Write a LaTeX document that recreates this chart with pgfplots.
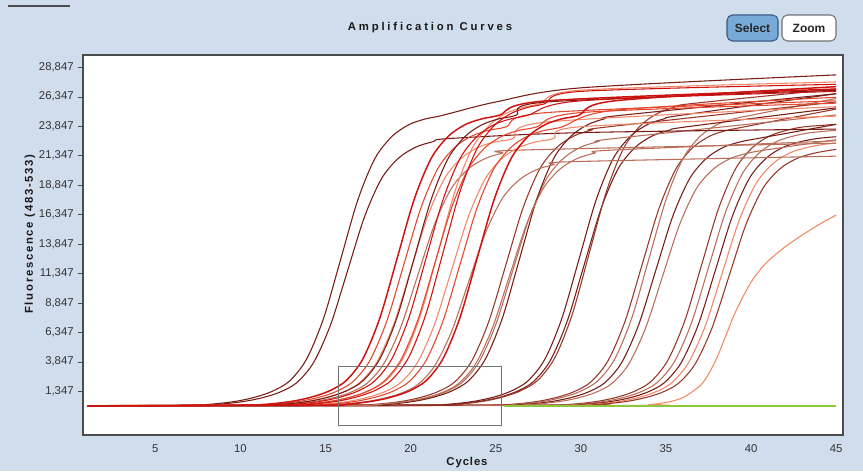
\documentclass[border=0pt]{standalone}
\usepackage{pgfplots}
\pgfplotsset{compat=1.18}
\usepackage{fontspec}
\setmainfont{Liberation Sans}
\definecolor{bgc}{RGB}{207,221,236}
\definecolor{cA}{RGB}{120,28,22}
\definecolor{cB}{RGB}{205,18,15}
\definecolor{cC}{RGB}{228,70,45}
\definecolor{cD}{RGB}{240,135,105}
\definecolor{cE}{RGB}{150,55,40}
\definecolor{cF}{RGB}{185,110,90}
\definecolor{cG}{RGB}{238,140,100}
\definecolor{greenline}{RGB}{140,200,60}
\definecolor{selfill}{RGB}{120,170,215}
\definecolor{seldraw}{RGB}{60,90,130}
\begin{document}
\begin{tikzpicture}
\fill[bgc] (0,0) rectangle (647.25pt,-353.25pt);
\draw[black!70,line width=1.5pt] (6pt,-4.5pt) -- (52.5pt,-4.5pt);
\node[font=\fontsize{8.5}{9}\selectfont\bfseries\addfontfeature{LetterSpace=25},text=black!90] at (322.5pt,-21pt) {Amplification Curves};
\draw[seldraw,fill=selfill,rounded corners=4pt,line width=0.8pt] (545.25pt,-11.25pt) rectangle (583.5pt,-30.75pt);
\node[font=\fontsize{9}{10}\selectfont\bfseries,text=black!85] at (564.4pt,-21pt) {Select};
\draw[black!55,fill=white,rounded corners=4pt,line width=0.8pt] (586.5pt,-11.25pt) rectangle (627pt,-30.75pt);
\node[font=\fontsize{9}{10}\selectfont\bfseries,text=black!85] at (606.75pt,-21pt) {Zoom};
\node[font=\fontsize{8.5}{9}\selectfont\bfseries\addfontfeature{LetterSpace=8},text=black!90] at (350.25pt,-347.25pt) {Cycles};
\node[rotate=90,font=\fontsize{8.5}{9}\selectfont\bfseries\addfontfeature{LetterSpace=15},text=black!90] at (22.5pt,-175.5pt) {Fluorescence (483-533)};
\begin{axis}[
  at={(62.25pt,-326.25pt)}, anchor=south west,
  width=570pt, height=285pt, scale only axis,
  xmin=0.75, xmax=45.4, ymin=-2380, ymax=29890,
  scaled y ticks=false, scaled x ticks=false,
  axis background/.style={fill=white},
  axis line style={draw=black!70,line width=1.1pt},
  xtick={5,10,15,20,25,30,35,40,45},
  xticklabels={5,10,15,20,25,30,35,40,45},
  ytick={1347,3847,6347,8847,11347,13847,16347,18847,21347,23847,26347,28847},
  yticklabels={{1,347},{3,847},{6,347},{8,847},{11,347},{13,847},{16,347},{18,847},{21,347},{23,847},{26,347},{28,847}},
  tick label style={font=\fontsize{8.5}{9}\selectfont, text=black!80},
  xtick style={draw=none},
  ytick style={draw=black!70},
  tick align=outside, major tick length=3.5pt,
  ytick pos=left, xtick pos=bottom,
  no markers,
  every axis plot/.append style={line width=0.8pt, smooth, tension=0.5},
]
% Group F
\addplot[cE] coordinates {(1,100) (28.1,148) (29.1,196) (30.1,316) (31.1,508) (32.1,820) (33.1,1300) (34.1,2140) (35.1,3940) (36.1,7300) (37.1,12100) (38.1,16900) (39.1,20260) (40.1,22060) (41.1,23020) (42.1,23500) (43.1,23788) (45,24000)};
\addplot[cF] coordinates {(1,100) (28.5,147) (29.5,194) (30.5,312) (31.5,500) (32.5,805) (33.5,1275) (34.5,2098) (35.5,3860) (36.5,7150) (37.5,11850) (38.5,16550) (39.5,19840) (40.5,21602) (41.5,22542) (42.5,23012) (43.5,23294) (45,23500)};
\addplot[cA] coordinates {(1,100) (28.9,146) (29.9,192) (30.9,307) (31.9,491) (32.9,790) (33.9,1250) (34.9,2055) (35.9,3780) (36.9,7000) (37.9,11600) (38.9,16200) (39.9,19420) (40.9,21145) (41.9,22065) (42.9,22525) (43.9,22801) (45,22950)};
\addplot[cD] coordinates {(1,100) (29.3,145) (30.3,190) (31.3,303) (32.3,483) (33.3,775) (34.3,1225) (35.3,2013) (36.3,3700) (37.3,6850) (38.3,11350) (39.3,15850) (40.3,19000) (41.3,20688) (42.3,21588) (43.3,22038) (44.3,22308) (45,22400)};
\addplot[cE] coordinates {(1,100) (29.7,144) (30.7,188) (31.7,298) (32.7,474) (33.7,760) (34.7,1200) (35.7,1970) (36.7,3620) (37.7,6700) (38.7,11100) (39.7,15500) (40.7,18580) (41.7,20230) (42.7,21110) (43.7,21550) (44.7,21814) (45,21880)};
% orange late curve
\addplot[cG] coordinates {(1,100) (33,130) (34,200) (35,380) (36,800) (37,1800) (37.5,2800) (38,4200) (38.5,6000) (39,7800) (39.5,9300) (40,10600) (40.5,11600) (41,12400) (42,13600) (43,14600) (44,15500) (45,16300)};
% Group E
\addplot[cE] coordinates {(1,100) (24.6,148) (25.6,196) (26.6,316) (27.6,508) (28.6,820) (29.6,1300) (30.6,2140) (31.6,3940) (32.6,7300) (33.6,12100) (34.6,16900) (35.6,20260) (36.6,22060) (37.6,23020) (38.6,23500) (39.6,23788) (45,25300)};
\addplot[cF] coordinates {(1,100) (25,150) (26,200) (27,325) (28,525) (29,850) (30,1350) (31,2225) (32,4100) (33,7600) (34,12600) (35,17600) (36,21100) (37,22975) (38,23975) (39,24475) (40,24775) (45,26200)};
\addplot[cA] coordinates {(1,100) (25.4,146) (26.4,192) (27.4,307) (28.4,491) (29.4,790) (30.4,1250) (31.4,2055) (32.4,3780) (33.4,7000) (34.4,11600) (35.4,16200) (36.4,19420) (37.4,21145) (38.4,22065) (39.4,22525) (40.4,22801) (45,24000)};
\addplot[cF] coordinates {(1,100) (25.8,144) (26.8,188) (27.8,298) (28.8,474) (29.8,760) (30.8,1200) (31.8,1970) (32.8,3620) (33.8,6700) (34.8,11100) (35.8,15500) (36.8,18580) (37.8,20230) (38.8,21110) (39.8,21550) (40.8,21814) (45,22700)};
% Group D
\addplot[cA] coordinates {(1,100) (20.9,150) (21.9,200) (22.9,325) (23.9,525) (24.9,850) (25.9,1350) (26.9,2225) (27.9,4100) (28.9,7600) (29.9,12600) (30.9,17600) (31.9,21100) (32.9,22975) (33.9,23975) (34.9,24475) (35.9,24775) (45,26600)};
\addplot[cA] coordinates {(1,100) (21.2,148) (22.2,196) (23.2,316) (24.2,508) (25.2,820) (26.2,1300) (27.2,2140) (28.2,3940) (29.2,7300) (30.2,12100) (31.2,16900) (32.2,20260) (33.2,22060) (34.2,23020) (35.2,23500) (36.2,23788) (45,25400)};
\addplot[cE] coordinates {(1,100) (21.5,152) (22.5,204) (23.5,334) (24.5,542) (25.5,880) (26.5,1400) (27.5,2310) (28.5,4260) (29.5,7900) (30.5,13100) (31.5,18300) (32.5,21940) (33.5,23890) (34.5,24930) (35.5,25450) (36.5,25762) (45,27000)};
% Group C
\addplot[cE] coordinates {(1,100) (16.6,148) (17.6,196) (18.6,316) (19.6,508) (20.6,820) (21.6,1300) (22.6,2140) (23.6,3940) (24.6,7300) (25.6,12100) (26.6,16900) (27.6,20260) (28.6,22060) (29.6,23020) (30.6,23500) (31.6,23788) (45,25900)};
\addplot[cF] coordinates {(1,100) (17,146) (18,192) (19,307) (20,491) (21,790) (22,1250) (23,2055) (24,3780) (25,7000) (26,11600) (27,16200) (28,19420) (29,21145) (30,22065) (31,22525) (32,22801) (45,24800)};
\addplot[cA] coordinates {(1,100) (17.4,150) (18.4,200) (19.4,325) (20.4,525) (21.4,850) (22.4,1350) (23.4,2225) (24.4,4100) (25.4,7600) (26.4,12600) (27.4,17600) (28.4,21100) (29.4,22975) (30.4,23975) (31.4,24475) (32.4,24775) (45,26600)};
\addplot[cF] coordinates {(1,100) (16.8,144) (17.8,188) (18.8,298) (19.8,474) (20.8,760) (21.8,1200) (22.8,1970) (23.8,3620) (24.8,6700) (25.8,11100) (26.8,15500) (27.8,18580) (28.8,20230) (29.8,21110) (30.8,21550) (31.8,21814) (45,22600)};
% Group A
\addplot[cA] coordinates {(1,100) (7.3,146) (8.3,192) (9.3,307) (10.3,491) (11.3,790) (12.3,1250) (13.3,2055) (14.3,3780) (15.3,7000) (16.3,11600) (17.3,16200) (18.3,19420) (19.3,21145) (20.3,22065) (21.3,22525) (22.3,22801) (30,23300) (45,23600)};
\addplot[cA] coordinates {(1,100) (6.9,150) (7.9,200) (8.9,325) (9.9,525) (10.9,850) (11.9,1350) (12.9,2225) (13.9,4100) (14.9,7600) (15.9,12600) (16.9,17600) (17.9,21100) (18.9,22975) (19.9,23975) (20.9,24475) (21.9,24775) (25,25900) (30,27100) (45,28200)};
% Group B
\addplot[cF] coordinates {(1,100) (11.4,144) (12.4,188) (13.4,298) (14.4,474) (15.4,760) (16.4,1200) (17.4,1970) (18.4,3620) (19.4,6700) (20.4,11100) (21.4,15500) (22.4,18580) (23.4,20230) (24.4,21110) (25.4,21550) (26.4,21814) (45,22400)};
\addplot[cF] coordinates {(1,100) (14.4,142) (15.4,184) (16.4,289) (17.4,457) (18.4,730) (19.4,1150) (20.4,1885) (21.4,3460) (22.4,6400) (23.4,10600) (24.4,14800) (25.4,17740) (26.4,19315) (27.4,20155) (28.4,20575) (29.4,20827) (45,21300)};
\addplot[cD] coordinates {(1,100) (11,146) (12,192) (13,307) (14,491) (15,790) (16,1250) (17,2055) (18,3780) (19,7000) (20,11600) (21,16200) (22,19420) (23,21145) (24,22065) (25,22525) (26,22801) (28,24200) (45,25500)};
\addplot[cD] coordinates {(1,100) (13.4,146) (14.4,192) (15.4,307) (16.4,491) (17.4,790) (18.4,1250) (19.4,2055) (20.4,3780) (21.4,7000) (22.4,11600) (23.4,16200) (24.4,19420) (25.4,21145) (26.4,22065) (27.4,22525) (28.4,22801) (30,23800) (45,24700)};
\addplot[cD] coordinates {(1,100) (12.6,152) (13.6,204) (14.6,334) (15.6,542) (16.6,880) (17.6,1400) (18.6,2310) (19.6,4260) (20.6,7900) (21.6,13100) (22.6,18300) (23.6,21940) (24.6,23890) (25.6,24930) (26.6,25450) (27.6,25762) (30,26900) (45,27600)};
\addplot[cC] coordinates {(1,100) (10.6,148) (11.6,196) (12.6,316) (13.6,508) (14.6,820) (15.6,1300) (16.6,2140) (17.6,3940) (18.6,7300) (19.6,12100) (20.6,16900) (21.6,20260) (22.6,22060) (23.6,23020) (24.6,23500) (25.6,23788) (28,25000) (45,26000)};
\addplot[cC] coordinates {(1,100) (12.4,148) (13.4,196) (14.4,316) (15.4,508) (16.4,820) (17.4,1300) (18.4,2140) (19.4,3940) (20.4,7300) (21.4,12100) (22.4,16900) (23.4,20260) (24.4,22060) (25.4,23020) (26.4,23500) (27.4,23788) (30,25000) (45,25800)};
\addplot[cC] coordinates {(1,100) (13.9,148) (14.9,196) (15.9,316) (16.9,508) (17.9,820) (18.9,1300) (19.9,2140) (20.9,3940) (21.9,7300) (22.9,12100) (23.9,16900) (24.9,20260) (25.9,22060) (26.9,23020) (27.9,23500) (28.9,23788) (32,25200) (45,26300)};
\addplot[cA] coordinates {(1,100) (11.2,150) (12.2,200) (13.2,325) (14.2,525) (15.2,850) (16.2,1350) (17.2,2225) (18.2,4100) (19.2,7600) (20.2,12600) (21.2,17600) (22.2,21100) (23.2,22975) (24.2,23975) (25.2,24475) (26.2,24775) (28,25900) (45,26900)};
\addplot[cB] coordinates {(1,100) (11.9,150) (12.9,200) (13.9,325) (14.9,525) (15.9,850) (16.9,1350) (17.9,2225) (18.9,4100) (19.9,7600) (20.9,12600) (21.9,17600) (22.9,21100) (23.9,22975) (24.9,23975) (25.9,24475) (26.9,24775) (30,26000) (45,26800)};
\addplot[cB] coordinates {(1,100) (12.9,152) (13.9,204) (14.9,334) (15.9,542) (16.9,880) (17.9,1400) (18.9,2310) (19.9,4260) (20.9,7900) (21.9,13100) (22.9,18300) (23.9,21940) (24.9,23890) (25.9,24930) (26.9,25450) (27.9,25762) (30,26800) (45,27400)};
\addplot[cB,line width=1.1pt] coordinates {(1,100) (10.2,150) (11.2,200) (12.2,325) (13.2,525) (14.2,850) (15.2,1350) (16.2,2225) (17.2,4100) (18.2,7600) (19.2,12600) (20.2,17600) (21.2,21100) (22.2,22975) (23.2,23975) (24.2,24475) (25.2,24775) (28,26000) (45,27000)};
\addplot[cB,line width=1.1pt] coordinates {(1,100) (14.9,150) (15.9,200) (16.9,325) (17.9,525) (18.9,850) (19.9,1350) (20.9,2225) (21.9,4100) (22.9,7600) (23.9,12600) (24.9,17600) (25.9,21100) (26.9,22975) (27.9,23975) (28.9,24475) (29.9,24775) (32,26000) (45,27200)};
% green baseline
\addplot[color=greenline, line width=1.6pt, sharp plot] coordinates {(25.5,100) (30,100) (35,100) (40,100) (45,100)};
% selection box
\addplot[color=black!55, line width=0.9pt, sharp plot] coordinates {(15.75,3440) (25.32,3440) (25.32,-1600) (15.75,-1600) (15.75,3440)};
\end{axis}
\end{tikzpicture}
\end{document}
